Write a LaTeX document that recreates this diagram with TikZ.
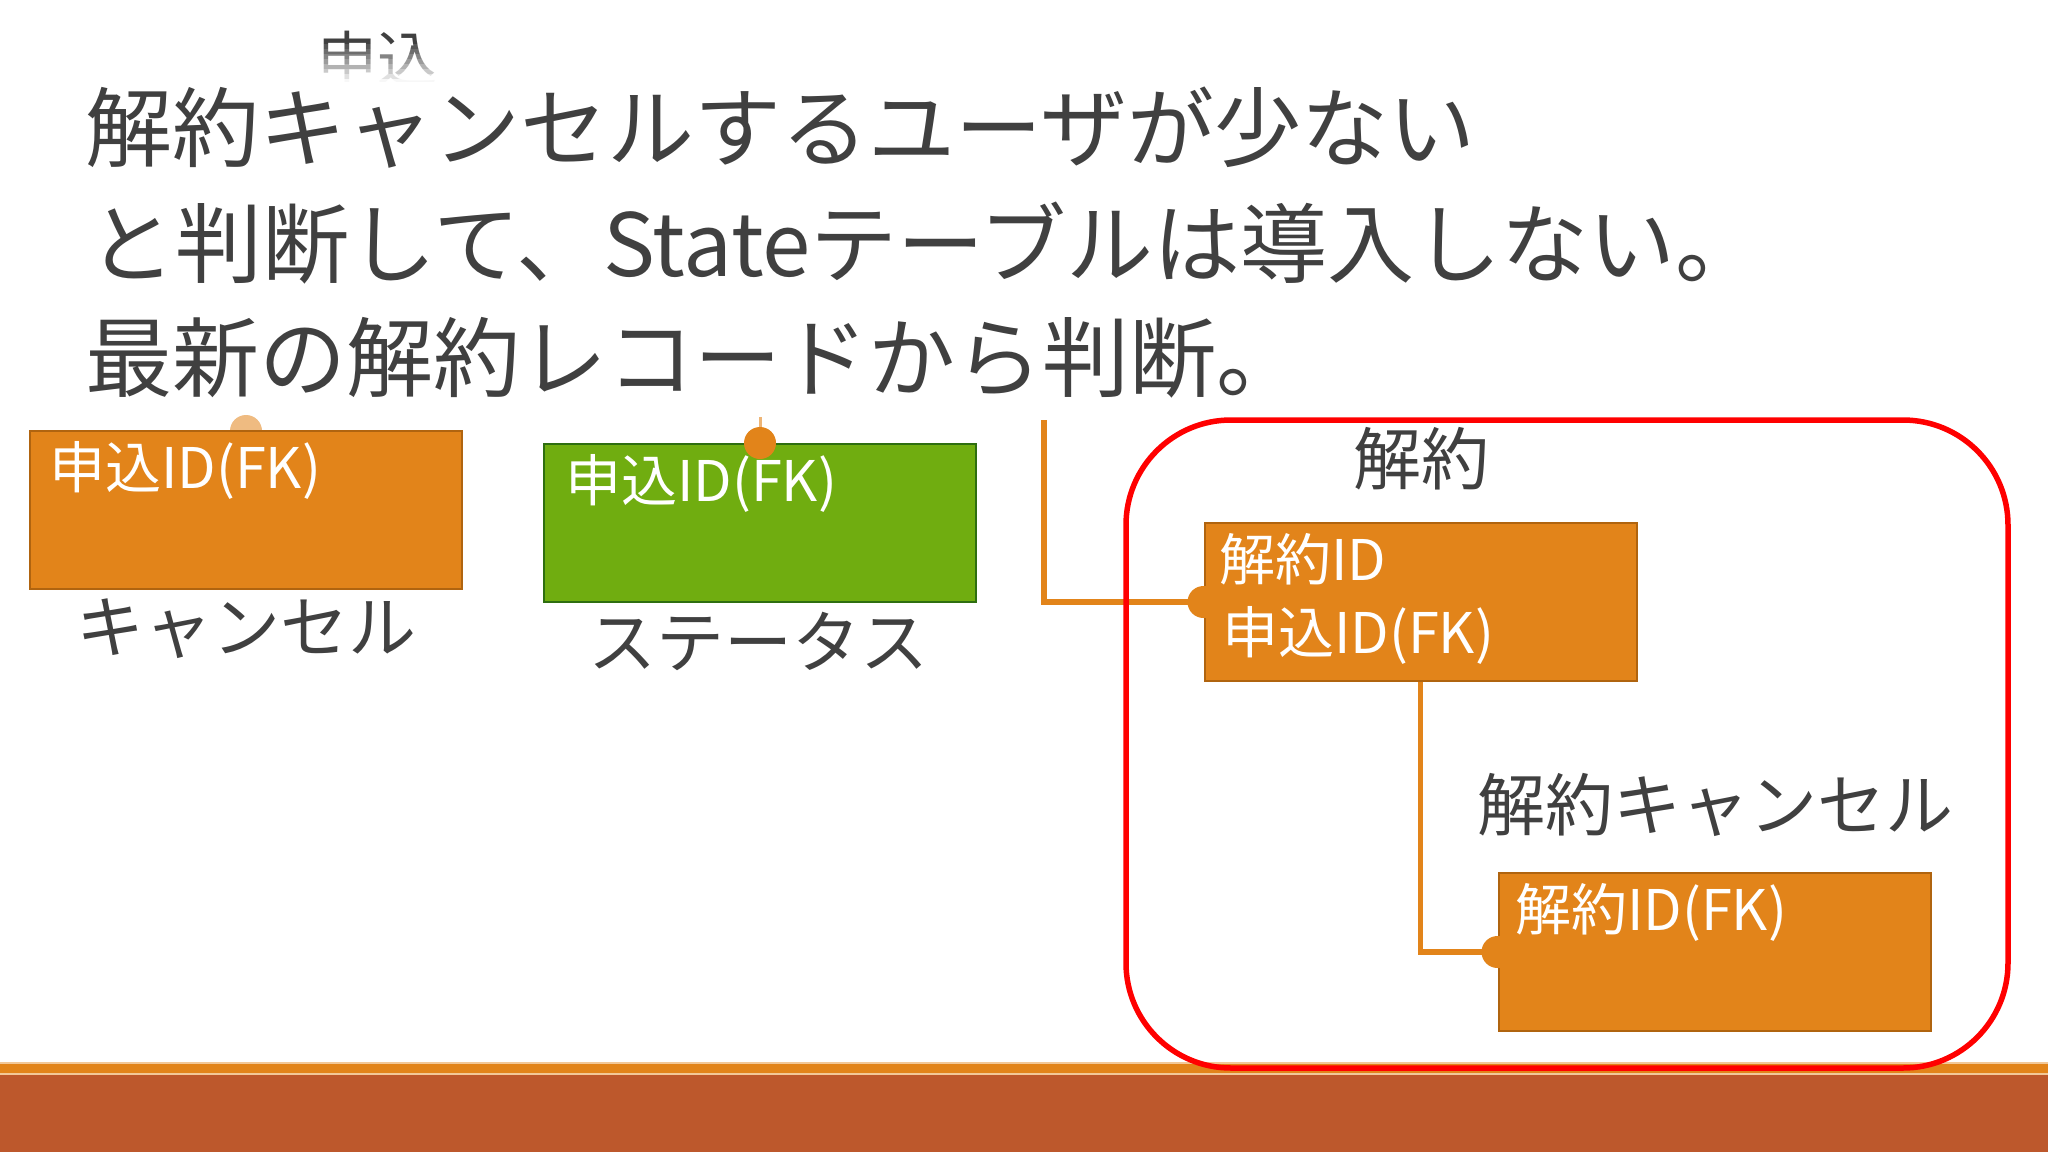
\documentclass[tikz,border=0pt]{standalone}
\usepackage{fontspec}
\setmainfont{Noto Sans CJK JP}
\definecolor{txt}{HTML}{404040}
\definecolor{boxfill}{HTML}{E2841A}
\definecolor{boxedge}{HTML}{B0640F}
\definecolor{gfill}{HTML}{70AD10}
\definecolor{gedge}{HTML}{2E6E10}
\definecolor{barbrown}{HTML}{BD582C}
\definecolor{barorange}{HTML}{E2841A}
\definecolor{redline}{HTML}{FF0000}
\begin{document}
\begin{tikzpicture}[x=1pt,y=-1pt,
  tbox/.style={draw=boxedge, fill=boxfill, line width=2pt, minimum width=432pt, minimum height=158pt, inner sep=0pt},
  gbox/.style={tbox, draw=gedge, fill=gfill},
  fld/.style={anchor=base west, text=white, font=\fontsize{56}{60}\selectfont, inner sep=0pt},
  head/.style={anchor=base, text=txt, font=\fontsize{68}{70}\selectfont, inner sep=0pt},
  ttl/.style={anchor=base west, text=txt, font=\fontsize{87}{90}\selectfont, inner sep=0pt},
  conn/.style={draw=boxfill, line width=5.5pt},
  dotc/.style={fill=boxfill}]
\useasboundingbox (0,0) rectangle (2048,1152);
\fill[white] (0,0) rectangle (2048,1152);

% faded header of hidden table
\node[head, anchor=base west, font=\fontsize{60}{62}\selectfont] (mhead) at (317,81) {申込};
\foreach \i in {0,...,7}{
  \pgfmathsetmacro{\op}{0.12*(\i+1)}
  \fill[white, opacity=\op] (300,44+5*\i) rectangle (460,49+5*\i);
}
\fill[white] (300,82) rectangle (460,90);

% title
\node[ttl] (t1) at (85,160) {解約キャンセルするユーザが少ない};
\node[ttl] (t2) at (88,276) {と判断して、Stateテーブルは導入しない。};
\node[ttl] (t3) at (85,390) {最新の解約レコードから判断。};

% cancel table
\fill[boxfill!55!white] (246,431) circle (16);
\node[tbox] (cancel) at (245.75,510) {};
\node[fld] (cancelf) at (49,488) {申込ID(FK)};
\node[head] (cancelh) at (246,652) {キャンセル};

% status table
\node[gbox] (status) at (760,523) {};
\draw[boxfill!60!white, line width=3pt] (status.north) -- ++(0,-26);
\fill[boxfill] (status.north) circle (16);
\node[fld] (statusf) at (565,501) {申込ID(FK)};
\node[head] (statush) at (758,667) {ステータス};

% kaiyaku tables
\node[tbox] (kaiyaku) at (1420.5,602) {};
\node[fld] (kf1) at (1219,580) {解約ID};
\node[fld] (kf2) at (1222,653) {申込ID(FK)};
\node[tbox] (kc) at (1714.5,952) {};
\node[fld] (kcf) at (1515,930) {解約ID(FK)};

% connectors
\coordinate (mtop) at (1044,420);
\draw[conn] (mtop) |- (kaiyaku.west);
\fill[dotc] (kaiyaku.west) circle (16);
\draw[conn] (kaiyaku.south) |- (kc.west);
\fill[dotc] (kc.west) circle (16);

% bottom bars
\fill[barorange] (0,1063) rectangle (2048,1075);
\draw[barorange!45!white, line width=1.2pt] (0,1063) -- (2048,1063);
\draw[barorange!45!white, line width=1.2pt] (0,1074) -- (2048,1074);
\fill[barbrown] (0,1075) rectangle (2048,1152);

% group frame
\node[draw=redline, line width=5.5pt, rounded corners=105pt, minimum width=882pt, minimum height=648pt, inner sep=0pt] (grp) at (1567,744) {};
\node[head] (kh) at (1421,484) {解約};
\node[head] (kch) at (1715,830) {解約キャンセル};
\end{tikzpicture}
\end{document}
